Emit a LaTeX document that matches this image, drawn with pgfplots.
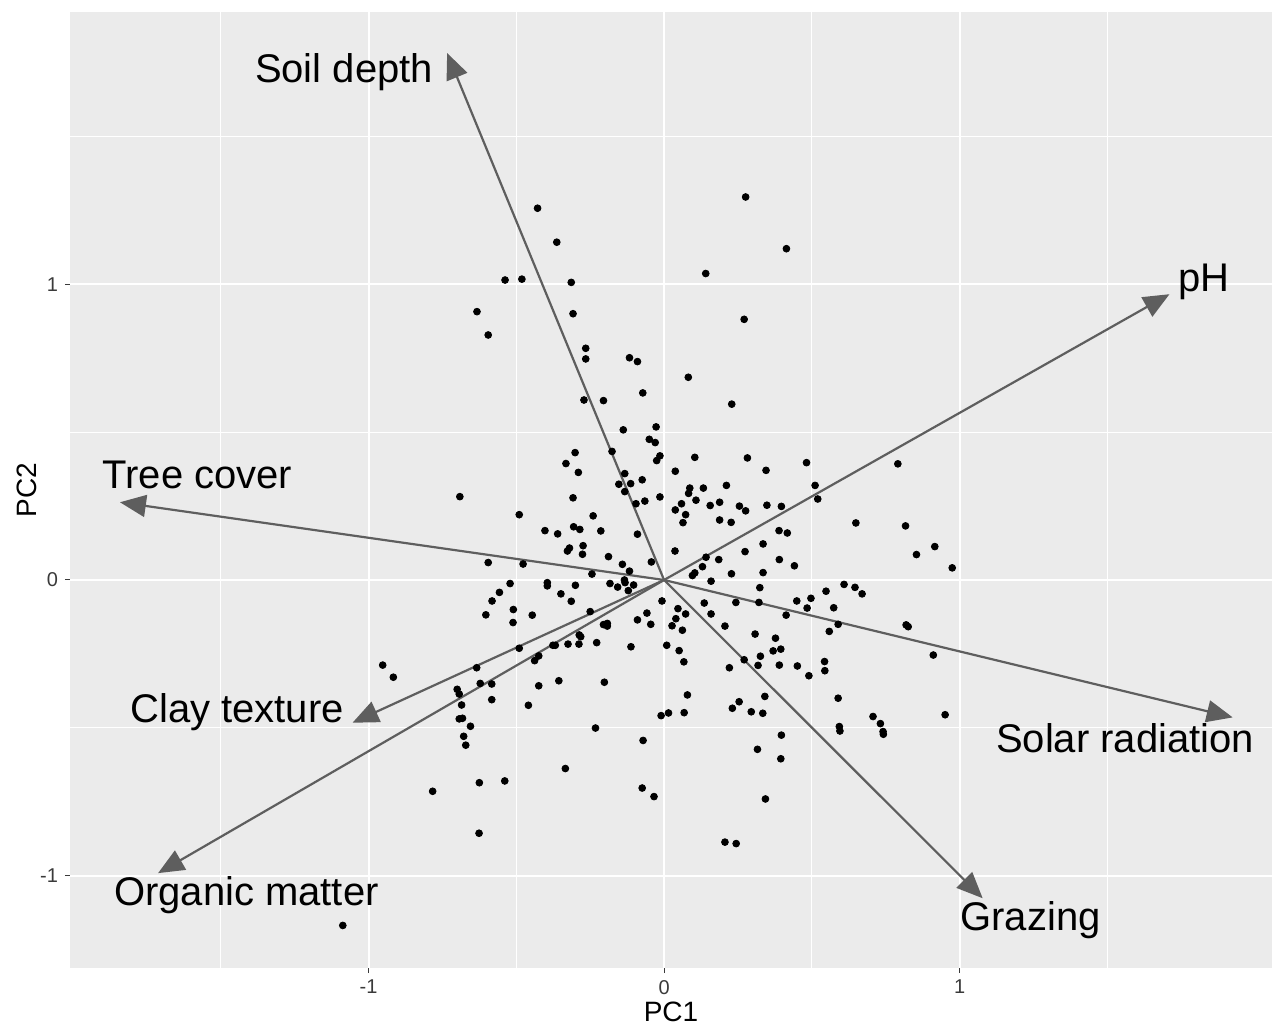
\documentclass[border=0pt]{standalone}
\usepackage{pgfplots}
\pgfplotsset{compat=1.18}
\usepackage{fontspec}
\setmainfont{Liberation Sans}
\usetikzlibrary{arrows.meta}
\definecolor{panelbg}{HTML}{EBEBEB}
\definecolor{ticktxt}{HTML}{3A3A3A}
\definecolor{arrowcol}{HTML}{5E5E5E}

\pgfplotstableread{
x y
-0.428 1.258
-0.363 1.143
-0.538 1.015
-0.481 1.018
-0.314 1.007
-0.633 0.908
-0.595 0.829
-0.308 0.901
-0.265 0.784
-0.265 0.748
-0.117 0.752
-0.090 0.739
-0.072 0.633
-0.271 0.609
-0.205 0.607
-0.138 0.508
-0.027 0.518
-0.050 0.476
0.276 1.296
0.414 1.121
0.141 1.037
0.271 0.882
0.082 0.686
0.229 0.595
-0.030 0.465
-0.301 0.431
-0.332 0.394
-0.290 0.364
-0.176 0.435
-0.014 0.420
-0.025 0.404
-0.133 0.360
-0.153 0.324
-0.113 0.326
-0.133 0.299
-0.074 0.339
-0.065 0.267
-0.095 0.258
-0.014 0.281
-0.691 0.282
-0.308 0.278
-0.490 0.221
-0.240 0.217
-0.403 0.167
-0.360 0.156
-0.306 0.180
-0.285 0.171
-0.214 0.166
-0.090 0.155
-0.274 0.116
-0.320 0.108
-0.327 0.098
-0.276 0.087
-0.188 0.079
-0.141 0.053
-0.117 0.030
-0.043 0.061
-0.244 0.020
-0.595 0.059
-0.477 0.054
-0.521 -0.012
-0.395 -0.009
-0.395 -0.020
-0.300 -0.018
-0.183 -0.012
-0.157 -0.024
-0.134 0.000
-0.132 -0.009
-0.121 -0.036
-0.103 -0.017
-0.557 -0.042
-0.349 -0.047
-0.314 -0.072
-0.582 -0.071
-0.007 -0.071
-0.510 -0.100
-0.603 -0.118
-0.446 -0.119
-0.250 -0.107
-0.511 -0.144
-0.058 -0.112
-0.090 -0.135
-0.045 -0.150
-0.205 -0.151
-0.192 -0.147
-0.192 -0.156
-0.287 -0.186
-0.282 -0.192
0.009 -0.221
-0.376 -0.221
-0.368 -0.221
-0.325 -0.217
-0.288 -0.217
-0.228 -0.212
-0.112 -0.226
-0.490 -0.231
-0.424 -0.257
-0.438 -0.273
-0.952 -0.288
-0.916 -0.329
-0.634 -0.297
-0.356 -0.341
-0.202 -0.346
-0.424 -0.358
-0.622 -0.350
-0.583 -0.352
-0.700 -0.370
0.104 0.415
0.282 0.413
0.038 0.368
0.345 0.371
0.482 0.397
0.791 0.393
0.087 0.311
0.083 0.293
0.133 0.311
0.211 0.320
0.511 0.320
0.520 0.274
0.059 0.258
0.038 0.237
0.108 0.270
0.156 0.252
0.188 0.263
0.255 0.250
0.276 0.234
0.348 0.253
0.397 0.249
0.073 0.221
0.064 0.194
0.188 0.203
0.227 0.195
0.649 0.193
0.817 0.183
0.389 0.167
0.417 0.159
0.916 0.113
0.854 0.086
0.975 0.041
0.037 0.098
0.274 0.096
0.335 0.122
0.142 0.077
0.185 0.069
0.390 0.069
0.441 0.048
0.130 0.045
0.104 0.024
0.096 0.015
0.228 0.021
0.335 0.025
0.159 -0.004
0.324 -0.026
0.609 -0.015
0.646 -0.025
0.670 -0.047
0.548 -0.038
0.136 -0.078
0.243 -0.076
0.321 -0.076
0.449 -0.071
0.497 -0.062
0.484 -0.095
0.574 -0.094
0.047 -0.097
0.073 -0.115
0.040 -0.131
0.159 -0.115
0.413 -0.119
0.027 -0.155
0.062 -0.170
0.206 -0.156
0.589 -0.150
0.559 -0.174
0.819 -0.152
0.826 -0.158
0.308 -0.183
0.377 -0.197
0.051 -0.239
0.369 -0.240
0.395 -0.234
0.067 -0.277
0.271 -0.270
0.326 -0.258
0.221 -0.297
0.318 -0.289
0.390 -0.288
0.451 -0.291
0.543 -0.276
0.544 -0.307
0.490 -0.324
0.911 -0.254
-0.693 -0.386
-0.685 -0.423
-0.583 -0.405
-0.459 -0.424
-0.693 -0.470
-0.682 -0.468
-0.655 -0.495
-0.678 -0.529
-0.671 -0.559
-0.010 -0.459
0.015 -0.450
-0.232 -0.501
-0.071 -0.543
-0.334 -0.638
-0.783 -0.715
-0.625 -0.686
-0.539 -0.680
-0.074 -0.704
-0.034 -0.733
-0.626 -0.857
-1.087 -1.169
0.079 -0.389
0.068 -0.449
0.231 -0.434
0.254 -0.412
0.295 -0.446
0.334 -0.451
0.341 -0.394
0.589 -0.400
0.593 -0.496
0.595 -0.511
0.707 -0.462
0.732 -0.486
0.741 -0.513
0.742 -0.522
0.951 -0.456
0.397 -0.525
0.316 -0.573
0.395 -0.605
0.343 -0.741
0.206 -0.887
0.244 -0.892
}\scores

% loadings: arrow tip and label baseline position
\pgfplotstableread{
name tx ty lx ly
{Soil depth} -0.734 1.783 -1.083 1.685
pH 1.710 0.967 1.826 0.976
{Tree cover} -1.841 0.263 -1.579 0.310
{Clay texture} -1.054 -0.483 -1.445 -0.481
{Organic matter} -1.712 -0.992 -1.413 -1.103
{Solar radiation} 1.924 -0.465 1.560 -0.584
Grazing 1.078 -1.077 1.240 -1.187
}\loadings

\begin{document}
\begin{tikzpicture}
\begin{axis}[
    scale only axis,
    width=601pt, height=478pt,
    xmin=-2.01, xmax=2.057,
    ymin=-1.313, ymax=1.922,
    axis background/.style={fill=panelbg},
    axis line style={draw=none},
    xtick={-1,0,1}, ytick={-1,0,1},
    xticklabels={-1,0,1}, yticklabels={-1,0,1},
    minor xtick={-1.5,-0.5,0.5,1.5},
    minor ytick={-0.5,0.5,1.5},
    grid=both,
    major grid style={white, line width=1pt},
    minor grid style={white, line width=0.5pt},
    tick align=outside, tick pos=left,
    major tick length=2.5pt, minor tick length=0pt,
    tick style={draw=ticktxt, line width=0.5pt},
    tick label style={font=\fontsize{10}{11}\selectfont, text=ticktxt},
    xlabel={PC1}, ylabel={PC2},
    label style={font=\fontsize{14}{15}\selectfont},
    xlabel style={at={(axis description cs:0.5,-0.046)}, anchor=center},
    ylabel style={at={(axis description cs:-0.036,0.5)}, anchor=center},
    clip=false,
]
\addplot[only marks, mark=*, mark size=1.7pt, black] table[x=x, y=y] {\scores};

\pgfplotsinvokeforeach{0,...,6}{
  \pgfplotstablegetelem{#1}{tx}\of\loadings \edef\tx{\pgfplotsretval}
  \pgfplotstablegetelem{#1}{ty}\of\loadings \edef\ty{\pgfplotsretval}
  \pgfplotstablegetelem{#1}{lx}\of\loadings \edef\lx{\pgfplotsretval}
  \pgfplotstablegetelem{#1}{ly}\of\loadings \edef\ly{\pgfplotsretval}
  \pgfplotstablegetelem{#1}{name}\of\loadings \edef\nm{\pgfplotsretval}
  \edef\doit{\noexpand\addplot[arrowcol, line width=1.1pt,
      -{Triangle[length=13pt,width=11pt]}] coordinates {(0,0) (\tx,\ty)};
    \noexpand\node[anchor=base, font=\noexpand\fontsize{20}{22}\noexpand\selectfont]
      at (axis cs:\lx,\ly) {\nm};}
  \doit
}

\coordinate (sw) at (rel axis cs:0,0);
\coordinate (ne) at (rel axis cs:1,1);
\end{axis}
\path ([shift={(-35pt,-28.5pt)}]sw) ([shift={(1pt,6pt)}]ne);
\end{tikzpicture}
\end{document}
